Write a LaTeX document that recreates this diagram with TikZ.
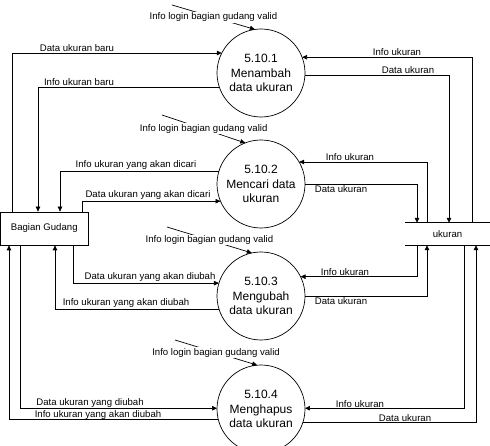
\documentclass[tikz,border=0pt]{standalone}
\usepackage{fontspec}
\setmainfont{Liberation Sans}
\usetikzlibrary{arrows.meta}

\begin{document}
\begin{tikzpicture}[x=1pt,y=1pt,
    flow/.style={-{Triangle[length=5pt,width=4.5pt]}, line width=0.7pt},
    line/.style={line width=0.7pt},
    proc/.style={circle, draw, line width=0.7pt, minimum size=88pt, inner sep=0pt,
      outer sep=0pt, align=center, font=\fontsize{12}{14.5}\selectfont},
    lbl/.style={font=\fontsize{9.6}{11}\selectfont, inner sep=1.5pt},
    login/.style={lbl, fill=white, inner sep=1pt}]
  \useasboundingbox (0,0) rectangle (490,446);

  % processes
  \node[proc] (p1) at (261,373) {5.10.1\\Menambah\\data ukuran};
  \node[proc] (p2) at (261,262) {5.10.2\\Mencari data\\ukuran};
  \node[proc] (p3) at (261,150) {5.10.3\\Mengubah\\data ukuran};
  \node[proc] (p4) at (261,37) {5.10.4\\Menghapus\\data ukuran};

  % external entity and data store
  \node[draw, line width=0.7pt, lbl, minimum width=87.5pt, minimum height=33pt] (gudang) at (44.25,217.5) {Bagian Gudang};
  \node[lbl, minimum width=85pt, minimum height=22pt] (store) at (447.5,212) {ukuran};
  \draw[line] (store.north west) -- (store.north east);
  \draw[line] (store.south west) -- (store.south east);

  % login flows
  \coordinate (s1) at (172,441);
  \coordinate (s2) at (162,331);
  \coordinate (s3) at (167,219);
  \coordinate (s4) at (175,106);
  \draw[flow] (s1) -- (p1.98) node[login, midway] (g1) {Info login bagian gudang valid};
  \draw[flow] (s2) -- (p2.111) node[login, midway] (g2) {Info login bagian gudang valid};
  \draw[flow] (s3) -- (p3.102) node[login, midway] (g3) {Info login bagian gudang valid};
  \draw[flow] (s4) -- (p4.95) node[login, midway] (g4) {Info login bagian gudang valid};

  % flows between Bagian Gudang and processes
  \draw[flow] (gudang.north -| 12,0) |- (p1.153);
  \draw[flow] (p1.199) -| (gudang.north -| 38,0);
  \draw[flow] (p2.163) -| (gudang.north -| 60,0);
  \draw[flow] (gudang.north -| 82,0) |- (p2.203);
  \draw[flow] (gudang.south -| 73,0) |- (p3.163);
  \draw[flow] (p3.197) -| (gudang.south -| 55,0);
  \draw[flow] (gudang.south -| 20,0) |- (p4.179);
  \draw[flow] (p4.194) -| (gudang.south -| 9,0);

  \node[lbl, above] (t1) at (77,393) {Data ukuran baru};
  \node[lbl, above] (t2) at (79,359) {Info ukuran baru};
  \node[lbl, above] (t3) at (136,275) {Info ukuran yang akan dicari};
  \node[lbl, above] (t4) at (148,245) {Data ukuran yang akan dicari};
  \node[lbl, above] (t5) at (150,163) {Data ukuran yang akan diubah};
  \node[lbl, above] (t6) at (126,137) {Info ukuran yang akan diubah};
  \node[lbl, above, inner sep=0pt] (t7) at (90,38) {Data ukuran yang diubah};
  \node[lbl, above, inner sep=0.5pt] (t8) at (98,26) {Info ukuran yang akan diubah};

  % flows between store and processes
  \draw[flow] (store.north -| 472,0) |- (p1.21);
  \draw[flow] (p1.357) -| (store.north -| 449,0);
  \draw[flow] (store.north -| 427,0) |- (p2.30);
  \draw[flow] (p2.0) -| (store.north -| 417,0);
  \draw[flow] (store.south -| 417,0) |- (p3.26);
  \draw[flow] (p3.0) -| (store.south -| 427,0);
  \draw[flow] (store.south -| 464,0) |- (p4.1);
  \draw[flow] (p4.343) -| (store.south -| 476,0);

  \node[lbl, above] (r1) at (397,389) {Info ukuran};
  \node[lbl, above] (r2) at (408,371) {Data ukuran};
  \node[lbl, above] (r3) at (350,284) {Info ukuran};
  \node[lbl, below] (r4) at (341,262) {Data ukuran};
  \node[lbl, above] (r5) at (345,169) {Info ukuran};
  \node[lbl, below] (r6) at (341,150) {Data ukuran};
  \node[lbl, above, inner sep=0pt] (r7) at (360,38) {Info ukuran};
  \node[lbl, above, inner sep=0.5pt] (r8) at (405,24) {Data ukuran};
\end{tikzpicture}
\end{document}
